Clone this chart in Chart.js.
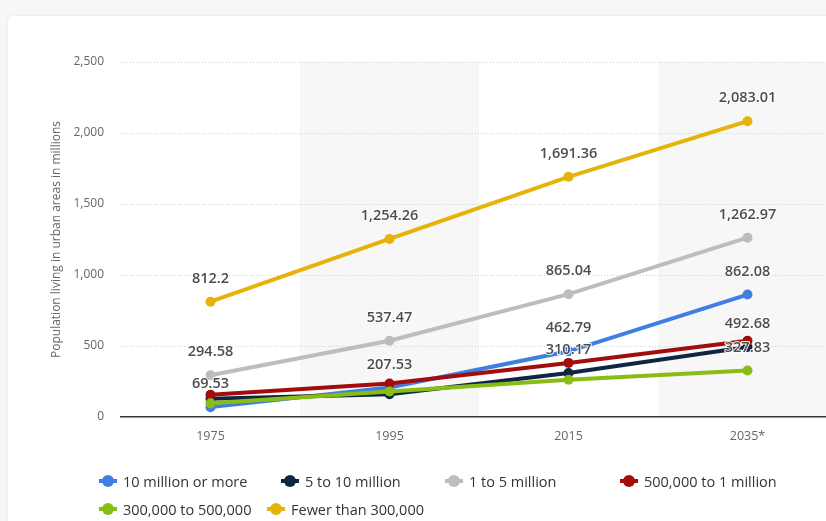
<!DOCTYPE html>
<html>
<head>
<meta charset="utf-8">
<script src="https://cdn.jsdelivr.net/npm/chart.js@4.4.1/dist/chart.umd.min.js"></script>
<style>
  html, body { margin: 0; padding: 0; width: 826px; height: 521px; overflow: hidden; background: #f6f7f9; }
  .card { position: absolute; left: 8px; top: 16px; width: 840px; height: 520px; background: #fff;
          border-radius: 6px; box-shadow: 0 0 3px rgba(0,0,0,0.10); }
  #chart { position: absolute; left: 0; top: 0; }
  .legend-item { position: absolute; display: flex; align-items: center; height: 18px;
                 font-family: "Open Sans", sans-serif; font-size: 14.5px; color: #333; white-space: nowrap; }
  .legend-item .mk { position: relative; width: 18px; height: 18px; margin-right: 6px; }
  .legend-item .mk .ln { position: absolute; left: 0; top: 7px; width: 18px; height: 4px; }
  .legend-item .mk .dt { position: absolute; left: 3px; top: 3px; width: 12px; height: 12px; border-radius: 50%; }
</style>
</head>
<body>
<div class="card"></div>
<canvas id="chart" width="842" height="521"></canvas>
<div id="legend"></div>
<script>
const years = ['1975', '1995', '2015', '2035*'];
const seriesNames = ['10 million or more', '5 to 10 million', '1 to 5 million',
  '500,000 to 1 million', '300,000 to 500,000', 'Fewer than 300,000'];
const tenMillionPlus = [69.53, 207.53, 462.79, 862.08];
const fiveToTen = [128, 160, 310.17, 492.68];
const oneToFive = [294.58, 537.47, 865.04, 1262.97];
const halfToOne = [157, 236, 381, 537];
const threeToFiveHundredK = [96, 180, 262, 327.83];
const fewerThan300k = [812.2, 1254.26, 1691.36, 2083.01];
// which points carry a value label in the picture
const labelFlags = [
  [1, 1, 1, 1],
  [0, 0, 1, 1],
  [1, 1, 1, 1],
  [0, 0, 0, 0],
  [0, 0, 0, 1],
  [1, 1, 1, 1]
];
const yTicks = [0, 500, 1000, 1500, 2000, 2500];

const colors = ['#3f7fe3', '#0f2541', '#bdbdbd', '#a30c0c', '#88bd14', '#e6b30b'];
const allValues = [tenMillionPlus, fiveToTen, oneToFive, halfToOne, threeToFiveHundredK, fewerThan300k];

const fmt = v => v.toLocaleString('en-US', { maximumFractionDigits: 2 });

const bandsPlugin = {
  id: 'bands',
  beforeDraw(chart) {
    const { ctx, chartArea, scales } = chart;
    const x = scales.x;
    const w = x.width / years.length;
    ctx.save();
    ctx.fillStyle = '#f7f7f7';
    years.forEach((y, i) => {
      if (i % 2 === 1) {
        const c = x.getPixelForValue(i);
        ctx.fillRect(c - w / 2, chartArea.top, w, chartArea.bottom - chartArea.top);
      }
    });
    ctx.restore();
  }
};

const valueLabels = {
  id: 'valueLabels',
  afterDatasetsDraw(chart) {
    const { ctx } = chart;
    ctx.save();
    ctx.font = '600 14.5px "Open Sans", sans-serif';
    ctx.textAlign = 'center';
    ctx.textBaseline = 'middle';
    ctx.lineJoin = 'round';
    chart.data.datasets.forEach((ds, di) => {
      const meta = chart.getDatasetMeta(di);
      meta.data.forEach((pt, i) => {
        if (!labelFlags[di][i]) return;
        const txt = fmt(ds.data[i]);
        ctx.strokeStyle = 'rgba(255,255,255,0.9)';
        ctx.lineWidth = 2;
        ctx.strokeText(txt, pt.x, pt.y - 23);
        ctx.fillStyle = '#4d4d4d';
        ctx.fillText(txt, pt.x, pt.y - 23);
      });
    });
    ctx.restore();
  }
};

const ctx = document.getElementById('chart').getContext('2d');
const myChart = new Chart(ctx, {
  type: 'line',
  data: {
    labels: years,
    datasets: allValues.map((vals, i) => ({
      label: seriesNames[i],
      data: vals,
      borderColor: colors[i],
      backgroundColor: colors[i],
      borderWidth: 4,
      pointRadius: 5,
      pointBorderWidth: 0,
      pointBackgroundColor: colors[i],
      tension: 0,
      order: allValues.length - i
    }))
  },
  options: {
    responsive: false,
    animation: false,
    layout: { padding: { left: 0, right: 0, top: 62, bottom: 74 } },
    plugins: {
      legend: { display: false },
      tooltip: { enabled: false }
    },
    scales: {
      x: {
        offset: true,
        grid: { display: false, drawTicks: false },
        border: { display: true, color: '#333', width: 1.5 },
        ticks: { color: '#666', padding: 12, font: { family: '"Open Sans", sans-serif', size: 12.5 } },
        afterFit: s => { s.height = 30; }
      },
      y: {
        min: 0,
        max: 2500,
        afterBuildTicks: s => { s.ticks = yTicks.map(v => ({ value: v })); },
        grid: {
          drawTicks: false,
          color: c => c.tick && c.tick.value === 0 ? 'rgba(0,0,0,0)' : '#cfcfcf',
          lineWidth: 1
        },
        border: { display: false, dash: [1, 2] },
        ticks: {
          color: '#666', padding: 17,
          font: { family: '"Open Sans", sans-serif', size: 12 },
          callback: v => fmt(v)
        },
        title: {
          display: true,
          text: 'Population living in urban areas in millions',
          color: '#666',
          font: { family: '"Open Sans", sans-serif', size: 12 },
          padding: { top: 49, bottom: 0 }
        },
        afterFit: s => { s.width = 121; }
      }
    }
  },
  plugins: [bandsPlugin, valueLabels]
});

// legend, built from the series names and colours
const legendSpots = [[99, 472], [281, 472], [445, 472], [620, 472], [99, 500], [267, 500]];
const legendEl = document.getElementById('legend');
seriesNames.forEach((name, i) => {
  const item = document.createElement('div');
  item.className = 'legend-item';
  item.style.left = legendSpots[i][0] + 'px';
  item.style.top = legendSpots[i][1] + 'px';
  item.innerHTML = '<span class="mk"><span class="ln" style="background:' + colors[i] +
    '"></span><span class="dt" style="background:' + colors[i] + '"></span></span>' + name;
  legendEl.appendChild(item);
});
</script>
</body>
</html>
